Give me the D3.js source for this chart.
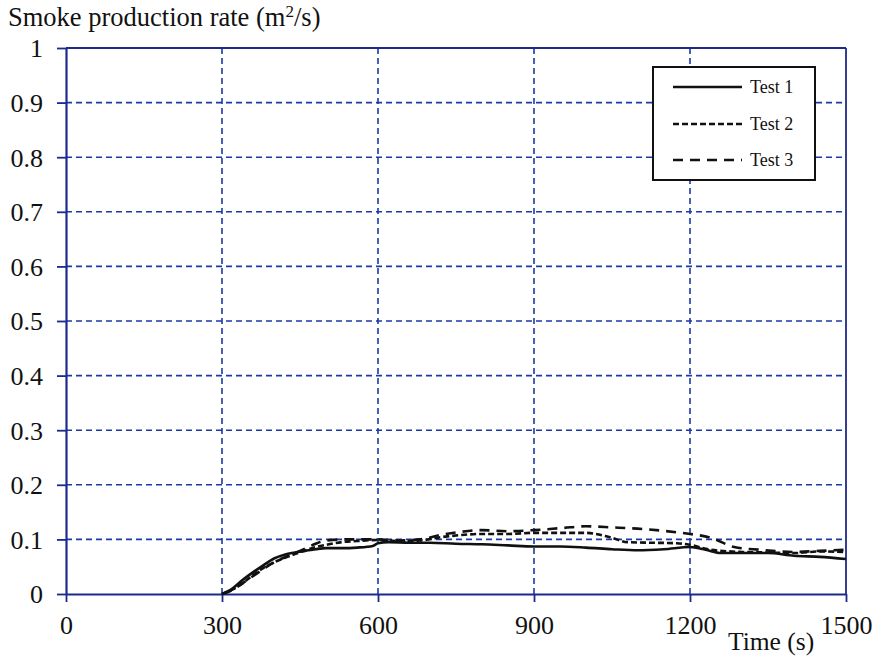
<!DOCTYPE html>
<html><head><meta charset="utf-8">
<script src="https://cdn.jsdelivr.net/npm/d3@7"></script>
<style>body{margin:0;background:#fff}svg{display:block}</style>
</head><body>
<script>
const xTicks=[0,300,600,900,1200,1500];
const yTicks=[0,0.1,0.2,0.3,0.4,0.5,0.6,0.7,0.8,0.9,1];
const yTickLabels=["0","0.1","0.2","0.3","0.4","0.5","0.6","0.7","0.8","0.9","1"];
const seriesNames=["Test 1","Test 2","Test 3"];
const t1Time=[300,320,340,360,380,400,420,440,460,480,500,530,560,590,600,620,660,700,750,800,850,900,950,1000,1050,1100,1150,1200,1230,1260,1300,1350,1400,1450,1500];
const t1Val=[0,0.01,0.026,0.04,0.053,0.065,0.072,0.076,0.079,0.082,0.084,0.084,0.085,0.088,0.093,0.095,0.094,0.094,0.092,0.091,0.089,0.087,0.087,0.085,0.082,0.08,0.082,0.086,0.081,0.075,0.075,0.075,0.07,0.068,0.064];
const t2Time=[300,320,340,360,380,400,420,440,460,480,500,530,560,600,640,680,720,760,800,850,900,950,1000,1046,1080,1120,1175,1200,1240,1300,1350,1400,1450,1500];
const t2Val=[0,0.008,0.02,0.035,0.048,0.058,0.066,0.073,0.08,0.086,0.09,0.095,0.097,0.099,0.097,0.098,0.104,0.108,0.11,0.11,0.112,0.112,0.112,0.104,0.095,0.094,0.093,0.09,0.081,0.077,0.076,0.075,0.078,0.077];
const t3Time=[300,320,340,360,380,400,420,440,460,480,500,540,580,600,640,680,720,760,800,850,900,956,1000,1050,1110,1175,1200,1240,1285,1335,1400,1450,1500];
const t3Val=[0,0.007,0.02,0.033,0.046,0.058,0.067,0.075,0.083,0.092,0.098,0.1,0.1,0.1,0.098,0.1,0.108,0.114,0.117,0.115,0.117,0.121,0.124,0.122,0.119,0.113,0.11,0.103,0.086,0.081,0.077,0.079,0.081];

const W=877,H=658;
const FONT="Liberation Serif";
const svg=d3.select("body").append("svg").attr("width",W).attr("height",H);
const x=d3.scaleLinear().domain([0,1500]).range([66,846]);
const y=d3.scaleLinear().domain([0,1]).range([594,48]);
const blue="#1a3aa8", axisBlue="#1c2a8c";

// grid
svg.append("g").selectAll("line").data(yTicks.filter(d=>d>0&&d<1)).join("line")
  .attr("x1",x(0)).attr("x2",x(1500)).attr("y1",d=>y(d)).attr("y2",d=>y(d))
  .attr("stroke",blue).attr("stroke-width",1.6).attr("stroke-dasharray","6,4");
svg.append("g").selectAll("line").data(xTicks.filter(d=>d>0&&d<1500)).join("line")
  .attr("y1",y(0)).attr("y2",y(1)).attr("x1",d=>x(d)).attr("x2",d=>x(d))
  .attr("stroke",blue).attr("stroke-width",1.6).attr("stroke-dasharray","6,4");

// frame
svg.append("line").attr("x1",x(0)).attr("x2",x(1500)).attr("y1",y(1)).attr("y2",y(1)).attr("stroke",axisBlue).attr("stroke-width",1.8);
svg.append("line").attr("x1",x(1500)).attr("x2",x(1500)).attr("y1",y(1)).attr("y2",y(0)).attr("stroke",axisBlue).attr("stroke-width",1.8);

// axes
const xAxis=d3.axisBottom(x).tickValues(xTicks).tickFormat(d3.format("d")).tickSize(8).tickSizeOuter(0).tickPadding(14);
const gx=svg.append("g").attr("transform",`translate(0,${y(0)})`).call(xAxis);
const yAxis=d3.axisLeft(y).tickValues(yTicks).tickFormat((d,i)=>yTickLabels[i]).tickSize(9).tickSizeOuter(0).tickPadding(14);
const gy=svg.append("g").attr("transform",`translate(${x(0)},0)`).call(yAxis);
[gx,gy].forEach(g=>{
  g.attr("font-family",FONT).attr("font-size",26);
  g.select(".domain").attr("stroke",axisBlue).attr("stroke-width",2.2);
  g.selectAll(".tick line").attr("stroke",axisBlue).attr("stroke-width",1.8);
  g.selectAll("text").style("font-family",FONT).style("font-size","26px").attr("fill","#111");
});
gy.selectAll(".tick text").attr("dy","0.34em");

// series
const line=d3.line().x(d=>x(d[0])).y(d=>y(d[1])).curve(d3.curveMonotoneX);
const series=[
  {name:seriesNames[0],data:d3.zip(t1Time,t1Val),dash:null},
  {name:seriesNames[1],data:d3.zip(t2Time,t2Val),dash:"6,3"},
  {name:seriesNames[2],data:d3.zip(t3Time,t3Val),dash:"10,7"}
];
svg.append("g").selectAll("path").data(series).join("path")
  .attr("d",d=>line(d.data)).attr("fill","none").attr("stroke","#111")
  .attr("stroke-width",2.6).attr("stroke-dasharray",d=>d.dash);

// legend
const lg=svg.append("g");
lg.append("rect").attr("x",653).attr("y",67).attr("width",162).attr("height",113)
  .attr("fill","#fff").attr("stroke","#111").attr("stroke-width",2);
const ly=[87,124,160];
series.forEach((s,i)=>{
  lg.append("line").attr("x1",673).attr("x2",742).attr("y1",ly[i]).attr("y2",ly[i])
    .attr("stroke","#111").attr("stroke-width",2.6).attr("stroke-dasharray",s.dash);
  lg.append("text").attr("x",750).attr("y",ly[i]).attr("dy","0.35em")
    .style("font-family",FONT).style("font-size","18px").attr("fill","#111").text(s.name);
});

// titles
const t=svg.append("text").attr("x",8).attr("y",26).style("font-family",FONT).style("font-size","26.5px").attr("fill","#111");
t.append("tspan").text("Smoke production rate (m");
t.append("tspan").attr("dy",-9).style("font-size","17px").text("2");
t.append("tspan").attr("dy",9).text("/s)");
svg.append("text").attr("x",728).attr("y",650).style("font-family",FONT).style("font-size","25.5px").attr("fill","#111").text("Time (s)");
</script>
</body></html>
